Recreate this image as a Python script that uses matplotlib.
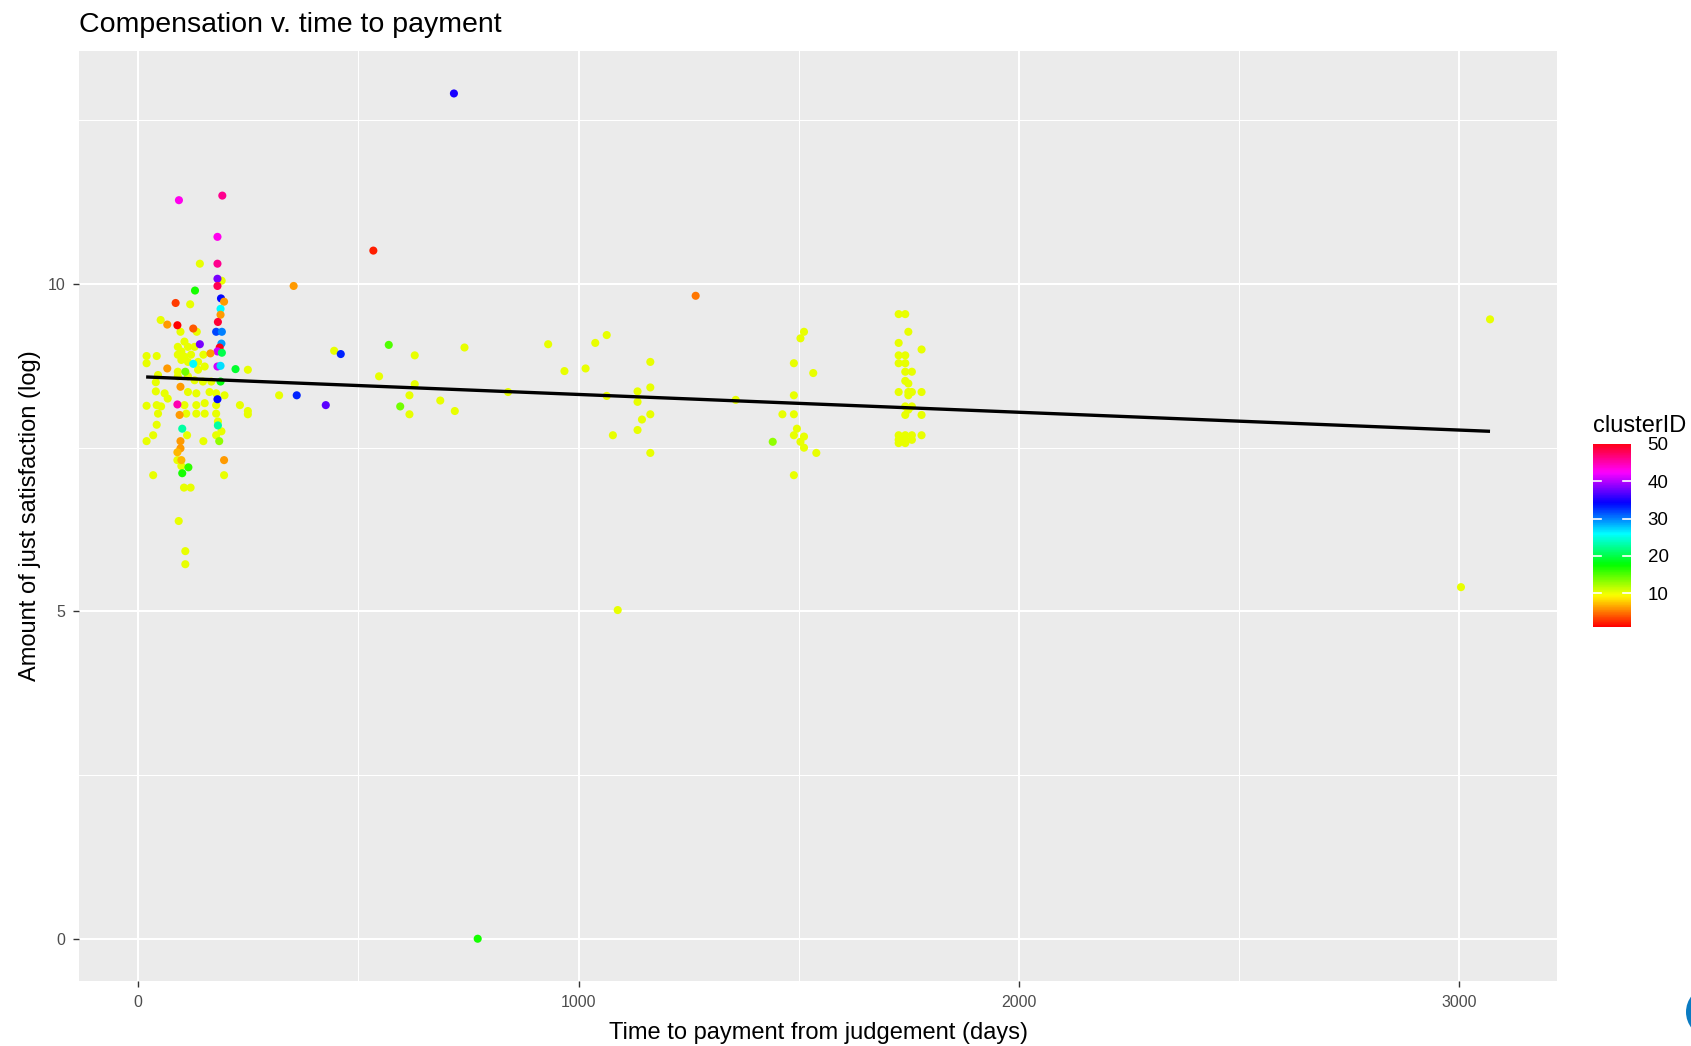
import numpy as np
import matplotlib
matplotlib.use("Agg")
import matplotlib.pyplot as plt
from matplotlib.colors import Normalize
from matplotlib.transforms import blended_transform_factory
from matplotlib.patches import Wedge

plt.rcParams['font.family'] = ['Liberation Sans', 'DejaVu Sans']

# ---------------- data ----------------
# yellow points (clusterID ~10)
yellow_days = [140, 189.5, 118, 51, 96, 133, 105, 90, 113, 128, 98, 90, 105, 120, 148, 98, 113, 136,
               151, 136, 90, 45, 90, 113, 128, 147, 166, 40, 40, 60, 67, 113, 132, 162, 177, 196,
               42, 105, 132, 151, 177, 109, 132, 151, 177, 45, 181, 19, 19, 42, 249, 231, 249, 249,
               19, 42, 34, 19, 111, 148, 177, 189, 89, 98, 34, 195, 104, 119, 92, 107, 107, 52,
               320, 445, 628, 741, 931, 547, 628, 616, 616, 686, 719, 840,
               968, 1016, 1038, 1064, 1064, 1078, 1089,
               1134, 1134, 1163, 1163, 1144, 1163, 1134, 1163,
               1357, 1463, 1489, 1489, 1489, 1496, 1489, 1504, 1512, 1512, 1504, 1512, 1489, 1533, 1540,
               1727, 1742, 1749, 1727, 1779, 1727, 1742, 1727, 1742, 1742, 1757, 1742, 1749, 1727,
               1749, 1757, 1779, 1749, 1742, 1757, 1749, 1742, 1779, 1727, 1742, 1757, 1779, 1727,
               1742, 1757, 1727, 1742,
               3070, 3004]
yellow_amount = [10.31, 10.05, 9.69, 9.45, 9.27, 9.27, 9.12, 9.04, 9.04, 9.04, 8.97, 8.92, 8.89, 8.92,
                 8.92, 8.84, 8.81, 8.81, 8.74, 8.69, 8.66, 8.61, 8.59, 8.59, 8.53, 8.51, 8.51, 8.50,
                 8.36, 8.33, 8.25, 8.35, 8.33, 8.35, 8.33, 8.30, 8.15, 8.15, 8.15, 8.18, 8.15, 8.02,
                 8.02, 8.02, 8.02, 8.02, 7.90, 8.90, 8.79, 8.90, 8.69, 8.15, 8.06, 8.01, 8.14, 7.85,
                 7.69, 7.60, 7.69, 7.60, 7.69, 7.75, 7.31, 7.22, 7.08, 7.08, 6.89, 6.89, 6.38, 5.92,
                 5.72, 8.13,
                 8.30, 8.98, 8.91, 9.03, 9.08, 8.59, 8.47, 8.30, 8.01, 8.22, 8.06, 8.35,
                 8.67, 8.71, 9.10, 9.22, 8.29, 7.69, 5.02,
                 8.36, 8.20, 8.81, 8.42, 7.93, 8.01, 7.77, 7.42,
                 8.23, 8.01, 8.79, 8.30, 8.01, 7.79, 7.69, 9.17, 9.27, 7.67, 7.59, 7.50, 7.08, 8.64, 7.42,
                 9.54, 9.54, 9.27, 9.10, 9.00, 8.91, 8.91, 8.79, 8.79, 8.66, 8.66, 8.52, 8.48, 8.35,
                 8.35, 8.35, 8.35, 8.30, 8.13, 8.13, 8.08, 8.00, 8.00, 7.69, 7.69, 7.69, 7.69, 7.62,
                 7.62, 7.62, 7.57, 7.57,
                 9.46, 5.37]
yellow_cluster = [10] * len(yellow_days)

# coloured points
other_days = [717, 771, 534, 353, 1266, 460, 360, 426, 569, 595, 1441,
              92.5, 191, 180, 180, 180, 180, 129, 85, 188, 195, 187, 187, 66, 89, 181, 125,
              177, 190, 189, 140, 185, 180, 190, 164, 125, 180, 187, 66, 107, 221, 187, 96,
              180, 89, 100, 181, 94, 96, 184, 96, 89, 98, 114, 100, 195]
other_amount = [12.91, 0.0, 10.51, 9.97, 9.82, 8.93, 8.30, 8.15, 9.07, 8.13, 7.59,
                11.28, 11.35, 10.72, 10.31, 10.08, 9.97, 9.90, 9.71, 9.78, 9.73, 9.62, 9.53, 9.38,
                9.37, 9.42, 9.32, 9.27, 9.27, 9.09, 9.08, 9.03, 8.97, 8.95, 8.94, 8.78, 8.74, 8.75,
                8.71, 8.66, 8.70, 8.51, 8.43, 8.24, 8.16, 7.79, 7.84, 8.00, 7.60, 7.60, 7.49, 7.43,
                7.31, 7.20, 7.11, 7.31]
other_cluster = [35, 17, 2, 6, 5, 33, 33, 37, 15, 14, 13,
                 43, 46, 43, 46, 38, 48, 17, 3, 34, 6, 26, 6, 6, 1, 49, 4,
                 32, 30, 29, 38, 50, 41, 20, 6, 26, 41, 27, 6, 14, 19, 18, 6,
                 34, 45, 23, 23, 6, 6, 13, 6, 7, 7, 16, 17, 6]

# fitted regression line (endpoints)
fit_days = [18, 3070]
fit_amount = [8.58, 7.75]

x_ticks = [0, 1000, 2000, 3000]
x_minor = [500, 1500, 2500]
y_ticks = [0, 5, 10]
y_minor = [2.5, 7.5, 12.5]
cb_ticks = [10, 20, 30, 40, 50]

title = "Compensation v. time to payment"
xlabel = "Time to payment from judgement (days)"
ylabel = "Amount of just satisfaction (log)"
legend_title = "clusterID"

# ---------------- figure ----------------
W, H = 1691, 1046
fig = plt.figure(figsize=(W / 100, H / 100), dpi=100)
fig.patch.set_facecolor("white")

left, right, top, bottom = 79.4, 1557.2, 51.2, 981.0
ax = fig.add_axes([left / W, 1 - bottom / H, (right - left) / W, (bottom - top) / H])
ax.set_facecolor("#EBEBEB")
for s in ax.spines.values():
    s.set_visible(False)

all_x = np.array(yellow_days + other_days, dtype=float)
all_y = np.array(yellow_amount + other_amount, dtype=float)
all_c = np.array(yellow_cluster + other_cluster, dtype=float)

norm = Normalize(vmin=all_c.min(), vmax=all_c.max())
cmap = plt.get_cmap("hsv")

xr = all_x.max() - all_x.min()
yr = all_y.max() - all_y.min()
ax.set_xlim(all_x.min() - 0.05 * xr, all_x.max() + 0.05 * xr)
ax.set_ylim(all_y.min() - 0.05 * yr, all_y.max() + 0.05 * yr)

ax.set_xticks(x_ticks)
ax.set_xticks(x_minor, minor=True)
ax.set_yticks(y_ticks)
ax.set_yticks(y_minor, minor=True)
ax.grid(True, which="major", color="white", linewidth=1.5)
ax.grid(True, which="minor", color="white", linewidth=0.75)
ax.set_axisbelow(True)
ax.tick_params(which="minor", length=0)
ax.tick_params(which="major", length=4, width=1, color="#333333",
               labelsize=11.5, labelcolor="#4D4D4D", pad=6)

ny = len(yellow_days)
ax.scatter(all_x[:ny], all_y[:ny], c=all_c[:ny], cmap=cmap, norm=norm,
           s=34, linewidths=0, zorder=3)
ax.scatter(all_x[ny:], all_y[ny:], c=all_c[ny:], cmap=cmap, norm=norm,
           s=34, linewidths=0, zorder=3)

ax.plot(fit_days, fit_amount, color="black", linewidth=2.4, zorder=4,
        solid_capstyle="butt")

ax.set_xlabel(xlabel, fontsize=17, color="black", labelpad=9)
ax.set_ylabel(ylabel, fontsize=17, color="black", labelpad=5)

fig.text(left / W, 1 - 32 / H, title, fontsize=20.5, color="black",
         ha="left", va="baseline")

# ---------------- colour bar ----------------
cb_l, cb_r, cb_t, cb_b = 1593.3, 1631.0, 444.0, 626.7
cax = fig.add_axes([cb_l / W, 1 - cb_b / H, (cb_r - cb_l) / W, (cb_b - cb_t) / H])
cb = fig.colorbar(plt.cm.ScalarMappable(norm=norm, cmap=cmap), cax=cax, ticks=cb_ticks)
cb.outline.set_visible(False)
cax.tick_params(length=0, labelsize=13.5, labelcolor="black", pad=12)
tr = blended_transform_factory(cax.transAxes, cax.transData)
for t in cb_ticks[:-1]:
    cax.plot([0, 0.2], [t, t], color="white", linewidth=1.2, transform=tr)
    cax.plot([0.8, 1], [t, t], color="white", linewidth=1.2, transform=tr)
fig.text(cb_l / W, 1 - 431.7 / H, legend_title, fontsize=17, color="black",
         ha="left", va="baseline")

# small blue arc artefact at the bottom-right corner of the reference
fig.patches.append(Wedge((1712, 1046 - 1012), 26, 140, 220, width=6,
                         transform=None, facecolor="#0a7bc2", edgecolor="none"))

fig.savefig("out.png", dpi=100)
